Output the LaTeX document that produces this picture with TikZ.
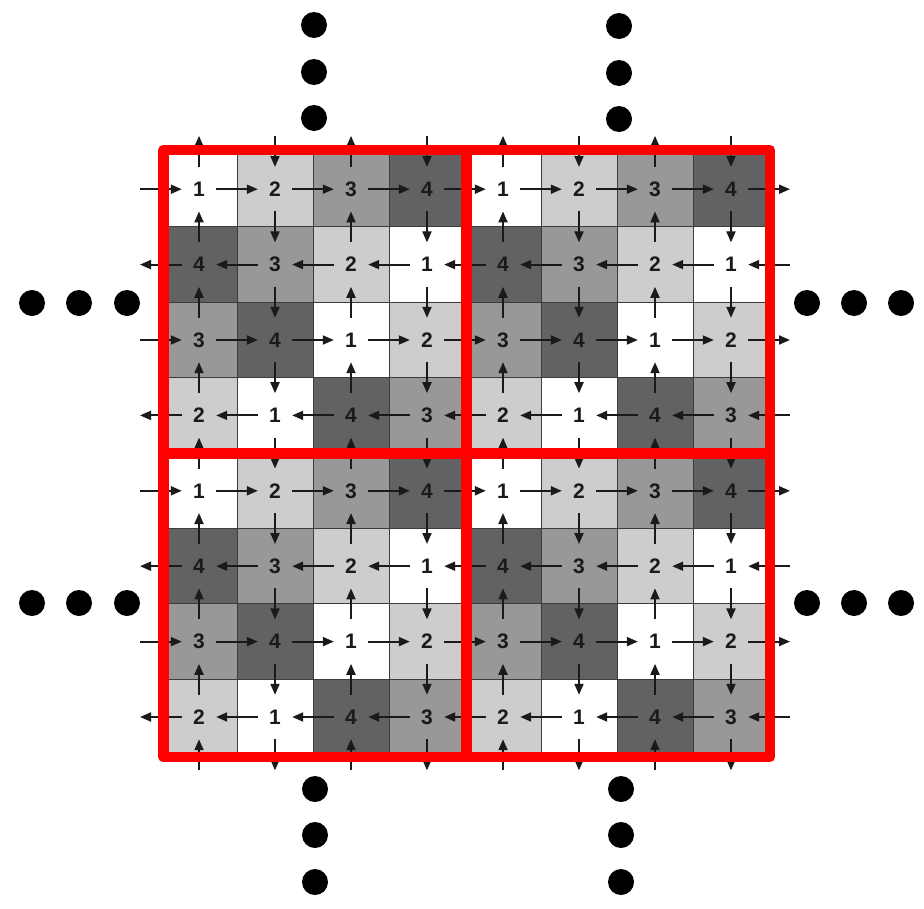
\documentclass[tikz,border=0pt]{standalone}
\usepackage{fontspec}
\setmainfont{Liberation Sans}
\usetikzlibrary{arrows.meta}
\definecolor{g1}{RGB}{255,255,255}
\definecolor{g2}{RGB}{205,205,205}
\definecolor{g3}{RGB}{152,152,152}
\definecolor{g4}{RGB}{97,98,100}
\definecolor{ink}{RGB}{26,26,26}
\definecolor{gridc}{RGB}{60,60,60}
\definecolor{redline}{RGB}{255,0,0}
\def\cellrows{{1,2,3,4,1,2,3,4},{4,3,2,1,4,3,2,1},{3,4,1,2,3,4,1,2},{2,1,4,3,2,1,4,3},{1,2,3,4,1,2,3,4},{4,3,2,1,4,3,2,1},{3,4,1,2,3,4,1,2},{2,1,4,3,2,1,4,3}}
\begin{document}
\begin{tikzpicture}[x=1pt,y=-1pt,
  num/.style={rectangle, minimum width=34pt, minimum height=44pt, inner sep=0pt, text=ink, font=\bfseries\fontsize{21}{21}\selectfont},
  arr/.style={draw=ink, line width=1.9pt, -{Triangle[length=11pt,width=9pt]}},
  gridline/.style={draw=gridc, line width=0.9pt},
  frame/.style={draw=redline, line width=10.5pt, line join=round},
  dot/.style={fill=black}]
\useasboundingbox (0,0) rectangle (924,908);
% cell fills
\foreach \row [count=\r] in \cellrows {
  \foreach \v [count=\c] in \row {
    \fill[g\v] ({161+76*(\c-1)},{151.5+75.4*(\r-1)}) rectangle ({161+76*\c},{151.5+75.4*\r});
  }
}
% grid lines
\foreach \k in {0,...,8} {
  \draw[gridline] ({161+76*\k},151.5) -- ({161+76*\k},{151.5+75.4*8});
  \draw[gridline] (161,{151.5+75.4*\k}) -- ({161+76*8},{151.5+75.4*\k});
}
% numbers
\foreach \row [count=\r] in \cellrows {
  \foreach \v [count=\c] in \row {
    \node[num] (n-\r-\c) at ({161+76*(\c-0.5)},{151.5+75.4*(\r-0.5)}) {\v};
  }
}
% outer coordinates
\foreach \k in {1,...,8} {
  \coordinate (t-\k) at ({161+76*(\k-0.5)},{151.5-75.4*0.5});
  \coordinate (b-\k) at ({161+76*(\k-0.5)},{151.5+75.4*8.5});
  \coordinate (l-\k) at ({161-38},{151.5+75.4*(\k-0.5)});
  \coordinate (r-\k) at ({161+76*8.5},{151.5+75.4*(\k-0.5)});
}
% horizontal arrows
\foreach \r in {1,3,5,7} {
  \draw[arr, shorten <=17pt] (l-\r) -- (n-\r-1);
  \foreach \c [evaluate=\c as \d using int(\c+1)] in {1,...,7}
    \draw[arr] (n-\r-\c) -- (n-\r-\d);
  \draw[arr, shorten >=17pt] (n-\r-8) -- (r-\r);
}
\foreach \r in {2,4,6,8} {
  \draw[arr, shorten <=17pt] (r-\r) -- (n-\r-8);
  \foreach \c [evaluate=\c as \d using int(\c-1)] in {8,...,2}
    \draw[arr] (n-\r-\c) -- (n-\r-\d);
  \draw[arr, shorten >=17pt] (n-\r-1) -- (l-\r);
}
% vertical arrows
\foreach \c in {1,3,5,7} {
  \draw[arr, shorten <=22pt] (b-\c) -- (n-8-\c);
  \foreach \r [evaluate=\r as \s using int(\r-1)] in {8,...,2}
    \draw[arr] (n-\r-\c) -- (n-\s-\c);
  \draw[arr, shorten >=22pt] (n-1-\c) -- (t-\c);
}
\foreach \c in {2,4,6,8} {
  \draw[arr, shorten <=22pt] (t-\c) -- (n-1-\c);
  \foreach \r [evaluate=\r as \s using int(\r+1)] in {1,...,7}
    \draw[arr] (n-\r-\c) -- (n-\s-\c);
  \draw[arr, shorten >=22pt] (n-8-\c) -- (b-\c);
}
% red frame
\draw[frame] (163.5,150) rectangle (770,757);
\draw[frame] (466.5,150) -- (466.5,757);
\draw[frame] (163.5,453.5) -- (770,453.5);
% dots
\foreach \px/\py in {314/25,314/72,314/118,619/26,619/73,619/119,
  32/303,79/303,127/303,807/303,854/303,901/303,
  32/603,79/603,127/603,807/603,854/603,901/603,
  315/789,315/835,315/882,621/789,621/835,621/882}
  \fill[dot] (\px,\py) circle[radius=13pt];
\end{tikzpicture}
\end{document}
